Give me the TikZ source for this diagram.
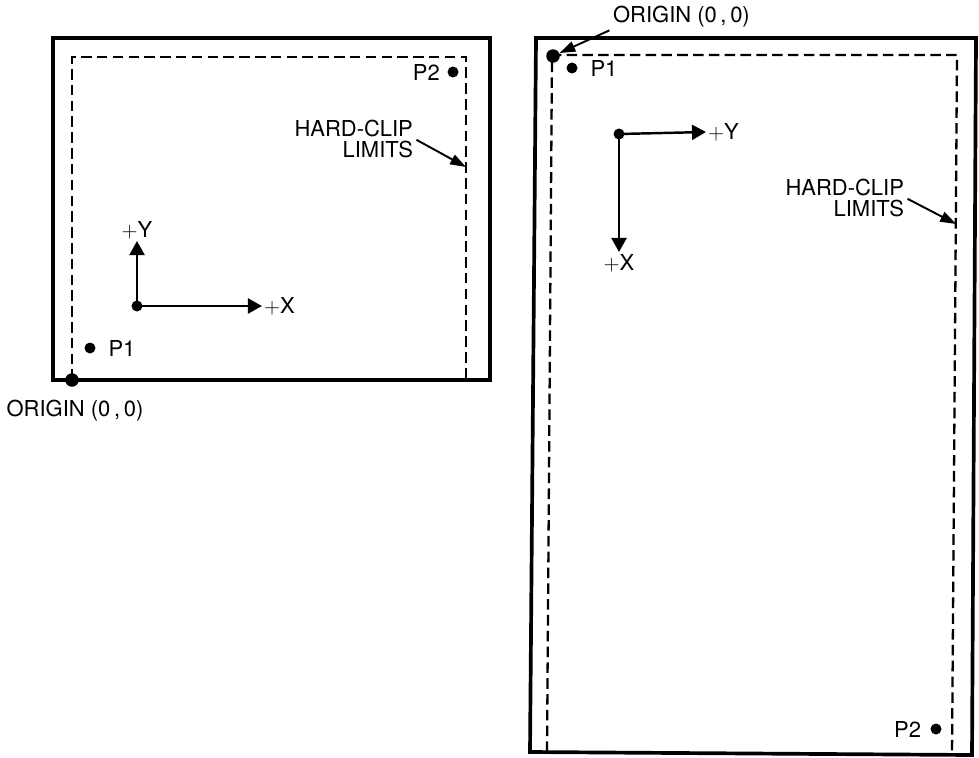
\documentclass[tikz,border=0pt]{standalone}
\usepackage{fontspec}
\setmainfont{TeX Gyre Heros}
\usetikzlibrary{arrows.meta, positioning}

\begin{document}
\begin{tikzpicture}[x=0.02cm, y=-0.02cm, font=\fontsize{12.5}{12.5}\selectfont,
    frame/.style={line width=2.1pt},
    clipline/.style={line width=1.3pt, dash pattern=on 6pt off 3pt},
    dot/.style={circle, fill, inner sep=0pt, minimum size=0.22cm},
    bigdot/.style={dot, minimum size=0.27cm},
    axis/.style={line width=1.4pt, -{Triangle[length=8pt,width=8.5pt]}},
    pointer/.style={line width=1.1pt, shorten <=1pt, -{Triangle[length=9pt,width=6pt]}},
    lbl/.style={inner sep=1pt}]
    \useasboundingbox (0,0) rectangle (979,757);
    % ---- 横向纸 ----
    \draw[frame] (53,38) rectangle (490,380);
    \draw[clipline] (72,380) -- (72,57) -- (466,57) -- (466,380);
    \node[bigdot] (orgL) at (72,380) {};
    \node[lbl] (orgLtxt) at (75,411) {ORIGIN (0\,,\,0)};
    \node[dot] (p1L) at (90,348) {};
    \node[lbl, right=6pt of p1L] {P1};
    \node[dot] (p2L) at (453,72) {};
    \node[lbl, left=3pt of p2L] {P2};
    \node[lbl, align=right, anchor=east] (hcL) at (415,139) {HARD-CLIP\\LIMITS};
    \coordinate (hcLend) at (466,167);
    \draw[pointer] (hcL.east) -- (hcLend);
    \node[dot] (axL) at (137,306) {};
    \coordinate (yL) at (137,241);
    \coordinate (xL) at (262,306);
    \draw[axis] (axL.center) -- (yL);
    \draw[axis] (axL.center) -- (xL);
    \node[lbl, anchor=south] at (yL) {$+$Y};
    \node[lbl, anchor=west] at (xL) {$+$X};
    % ---- 纵向纸 ----
    \draw[frame] (536,38) -- (976,38) -- (972,755) -- (530,752) -- cycle;
    \draw[clipline] (547,752) -- (552,55) -- (957,55) -- (952,755);
    \node[bigdot] (orgR) at (553,56) {};
    \node[lbl, anchor=west] (orgRtxt) at (611,17) {ORIGIN (0\,,\,0)};
    \draw[pointer] (orgRtxt.south west) -- (orgR);
    \node[dot] (p1R) at (572,68) {};
    \node[lbl, right=6pt of p1R] {P1};
    \node[dot] (p2R) at (936,729) {};
    \node[lbl, left=4pt of p2R] {P2};
    \node[lbl, align=right, anchor=east] (hcR) at (906,198) {HARD-CLIP\\LIMITS};
    \coordinate (hcRend) at (956,224);
    \draw[pointer] (hcR.east) -- (hcRend);
    \node[dot] (axR) at (619,134) {};
    \coordinate (yR) at (706,132);
    \coordinate (xR) at (619,252);
    \draw[axis] (axR.center) -- (yR);
    \draw[axis] (axR.center) -- (xR);
    \node[lbl, anchor=west] at (yR) {$+$Y};
    \node[lbl, anchor=north] at (xR) {$+$X};
\end{tikzpicture}
\end{document}
